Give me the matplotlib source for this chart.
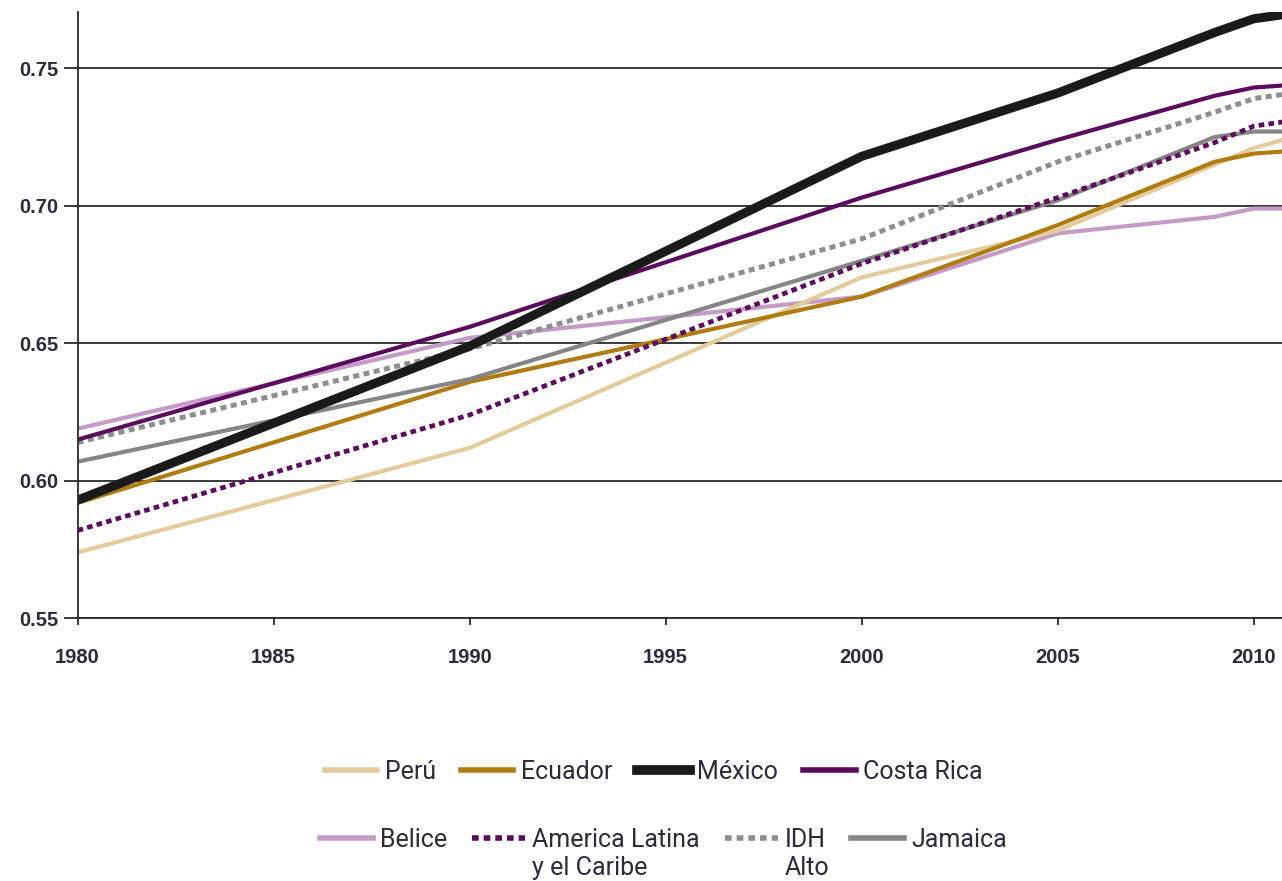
import matplotlib
matplotlib.use('Agg')
import matplotlib.pyplot as plt
from matplotlib.lines import Line2D

# HDI trend data
years = [1980, 1990, 2000, 2005, 2009, 2010, 2011]
peru = [0.574, 0.612, 0.674, 0.691, 0.715, 0.721, 0.725]
ecuador = [0.592, 0.636, 0.667, 0.693, 0.716, 0.719, 0.720]
mexico = [0.593, 0.649, 0.718, 0.741, 0.763, 0.768, 0.770]
costa_rica = [0.615, 0.656, 0.703, 0.724, 0.740, 0.743, 0.744]
belice = [0.619, 0.652, 0.667, 0.690, 0.696, 0.699, 0.699]
america_latina = [0.582, 0.624, 0.679, 0.703, 0.723, 0.729, 0.731]
idh_alto = [0.614, 0.648, 0.688, 0.716, 0.734, 0.739, 0.741]
jamaica = [0.607, 0.637, 0.680, 0.702, 0.725, 0.727, 0.727]

x_ticks = [1980, 1985, 1990, 1995, 2000, 2005, 2010]
y_ticks = [0.55, 0.60, 0.65, 0.70, 0.75]

labels1 = ['Perú', 'Ecuador', 'México', 'Costa Rica']
labels2 = ['Belice', 'America Latina', 'IDH', 'Jamaica']
second_lines = {1: 'y el Caribe', 2: 'Alto'}

plt.rcParams['font.family'] = ['Liberation Sans', 'DejaVu Sans']

fig = plt.figure(figsize=(12.82, 8.81), dpi=100)
ax = fig.add_axes([0.0605, 0.298, 0.9395, 0.6885])

dash = (0, (1.2, 0.9))
ax.plot(years, belice, color='#c49bc6', lw=3.0, solid_capstyle='butt')
ax.plot(years, peru, color='#e3cb9c', lw=3.0, solid_capstyle='butt')
ax.plot(years, ecuador, color='#b07b10', lw=3.0, solid_capstyle='butt')
ax.plot(years, jamaica, color='#858585', lw=3.0, solid_capstyle='butt')
ax.plot(years, america_latina, color='#5b0a5d', lw=3.4, linestyle=dash)
ax.plot(years, idh_alto, color='#8e8e8e', lw=3.6, linestyle=dash)
ax.plot(years, costa_rica, color='#5b0a5d', lw=3.0, solid_capstyle='butt')
ax.plot(years, mexico, color='#1a1a1a', lw=6.5, solid_capstyle='butt')

ax.set_xlim(1980, 2010.72)
ax.set_ylim(0.55, 0.7705)
ax.set_xticks(x_ticks)
ax.set_yticks(y_ticks)
ax.set_yticklabels(['%.2f' % v for v in y_ticks])
ax.grid(axis='y', color='#2a2a2a', lw=1.3)
ax.set_axisbelow(True)

for side in ['top', 'right']:
    ax.spines[side].set_visible(False)
for side in ['left', 'bottom']:
    ax.spines[side].set_color('#2a2a2a')
    ax.spines[side].set_linewidth(1.3)

ax.tick_params(axis='y', length=10, width=1.3, color='#2a2a2a', pad=4,
               labelsize=14.5, labelcolor='#2b2b3b')
ax.tick_params(axis='x', length=5, width=1.3, color='#2a2a2a', pad=16,
               labelsize=14.5, labelcolor='#2b2b3b')
for lab in ax.get_xticklabels() + ax.get_yticklabels():
    lab.set_fontweight('bold')

# legend, two independent rows
row1 = [
    Line2D([], [], color='#e3cb9c', lw=4),
    Line2D([], [], color='#b07b10', lw=4),
    Line2D([], [], color='#1a1a1a', lw=7),
    Line2D([], [], color='#5b0a5d', lw=4),
]
row2 = [
    Line2D([], [], color='#c49bc6', lw=4),
    Line2D([], [], color='#5b0a5d', lw=4, linestyle=(0, (1.2, 0.9))),
    Line2D([], [], color='#8e8e8e', lw=4, linestyle=(0, (1.2, 0.9))),
    Line2D([], [], color='#858585', lw=4),
]

leg_font = {'family': ['Roboto', 'DejaVu Sans'], 'size': 18}
leg1 = fig.legend(row1, labels1, loc='center', bbox_to_anchor=(0.51, 0.124),
                  ncol=4, frameon=False, handlelength=2.1, handletextpad=0.3,
                  columnspacing=1.0, prop=leg_font)
leg2 = fig.legend(row2, labels2, loc='center', bbox_to_anchor=(0.5176, 0.047),
                  ncol=4, frameon=False, handlelength=2.1, handletextpad=0.3,
                  columnspacing=1.0, prop=leg_font)
for leg in (leg1, leg2):
    for t in leg.get_texts():
        t.set_color('#2b2b3b')

# second lines of the wrapped legend labels
fig.canvas.draw()
renderer = fig.canvas.get_renderer()
W, H = fig.bbox.width, fig.bbox.height
for i, txt in second_lines.items():
    bb = leg2.get_texts()[i].get_window_extent(renderer)
    fig.text(bb.x0 / W, (bb.y0 - 28) / H, txt, ha='left', va='bottom',
             color='#2b2b3b', family=['Roboto', 'DejaVu Sans'], size=18)

fig.savefig('out.png', dpi=100)
